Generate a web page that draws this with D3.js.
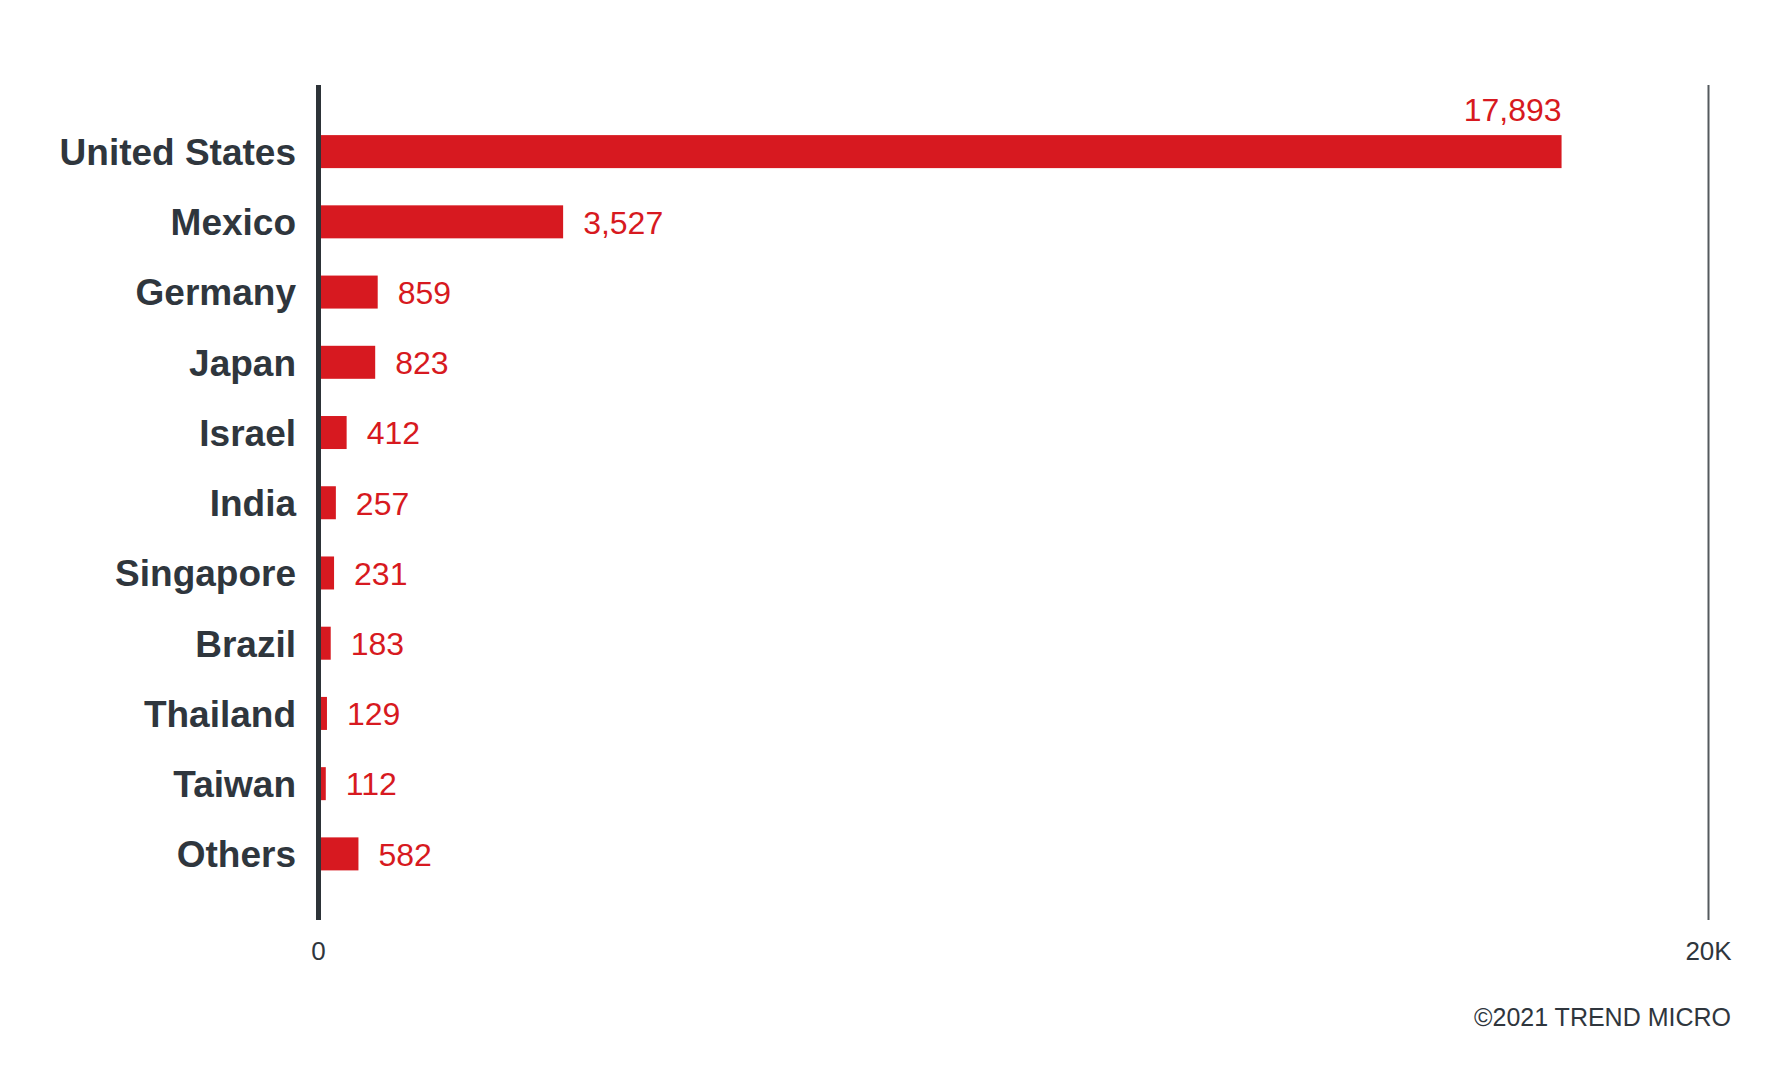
<!DOCTYPE html>
<html>
<head>
<meta charset="utf-8">
<script src="https://cdn.jsdelivr.net/npm/d3@7"></script>
<style>
  html, body { margin: 0; padding: 0; background: #fff; }
  .country { font-family: "Liberation Sans", Arial, sans-serif; font-weight: bold; fill: #2f363d; }
  .bar-value { font-family: "Liberation Sans", Arial, sans-serif; fill: #d71920; }
  .tick text { font-family: "Liberation Sans", Arial, sans-serif; fill: #2f363d; }
</style>
</head>
<body>
<svg id="chart" width="1775" height="1068"></svg>
<script>
// Data
const countries = ["United States", "Mexico", "Germany", "Japan", "Israel", "India",
  "Singapore", "Brazil", "Thailand", "Taiwan", "Others"];
const counts = [17893, 3527, 859, 823, 412, 257, 231, 183, 129, 112, 582];
const tickValues = [0, 20000];
const tickLabels = ["0", "20K"];
const footer = "\u00a92021 TREND MICRO";

const rows = countries.map((c, i) => ({ country: c, value: counts[i] }));

const svg = d3.select("#chart");

// Plot area
const plotLeft = 318, plotRight = 1708, plotTop = 85, plotBottom = 920;

const x = d3.scaleLinear()
  .domain([0, 20000])
  .range([plotLeft, plotRight]);

const y = d3.scaleBand()
  .domain(countries)
  .range([116.5, 889])
  .paddingInner(0.53)
  .paddingOuter(0.265);

// Bars
svg.selectAll(".bar")
  .data(rows)
  .enter().append("rect")
  .attr("class", "bar")
  .attr("x", x(0))
  .attr("y", d => y(d.country))
  .attr("width", d => x(d.value) - x(0))
  .attr("height", y.bandwidth())
  .attr("fill", "#d71920");

// Country labels
svg.selectAll(".country")
  .data(rows)
  .enter().append("text")
  .attr("class", "country")
  .attr("x", 296)
  .attr("y", d => y(d.country) + y.bandwidth() / 2)
  .attr("dy", "0.36em")
  .attr("text-anchor", "end")
  .style("font-size", "37px")
  .text(d => d.country);

// Value labels - the biggest one sits above its bar, the rest right of the bar
const fmt = d3.format(",");
const maxValue = d3.max(counts);
svg.selectAll(".bar-value")
  .data(rows)
  .enter().append("text")
  .attr("class", "bar-value")
  .attr("x", d => d.value === maxValue ? x(d.value) : x(d.value) + 20)
  .attr("y", d => d.value === maxValue ? y(d.country) - 14 : y(d.country) + y.bandwidth() / 2)
  .attr("dy", d => d.value === maxValue ? 0 : "0.37em")
  .attr("text-anchor", d => d.value === maxValue ? "end" : "start")
  .style("font-size", "32px")
  .text(d => fmt(d.value));

// Axis with full height tick lines (0 line thick, 20K line thin)
const axis = svg.append("g")
  .attr("transform", `translate(0,${plotBottom})`)
  .call(d3.axisBottom(x)
    .tickValues(tickValues)
    .tickFormat((d, i) => tickLabels[i])
    .tickSizeInner(-(plotBottom - plotTop))
    .tickSizeOuter(0)
    .tickPadding(22));

axis.select(".domain").remove();
axis.selectAll(".tick line")
  .attr("stroke", (d, i) => i === 0 ? "#2d3338" : "#555a5e")
  .attr("stroke-width", (d, i) => i === 0 ? 5 : 2);
axis.selectAll(".tick text")
  .style("font-size", "26px");

// Footer
svg.append("text")
  .attr("x", 1731)
  .attr("y", 1026)
  .attr("text-anchor", "end")
  .style("font-family", "'Liberation Sans', Arial, sans-serif")
  .style("font-size", "25px")
  .style("fill", "#2f363d")
  .text(footer);
</script>
</body>
</html>
